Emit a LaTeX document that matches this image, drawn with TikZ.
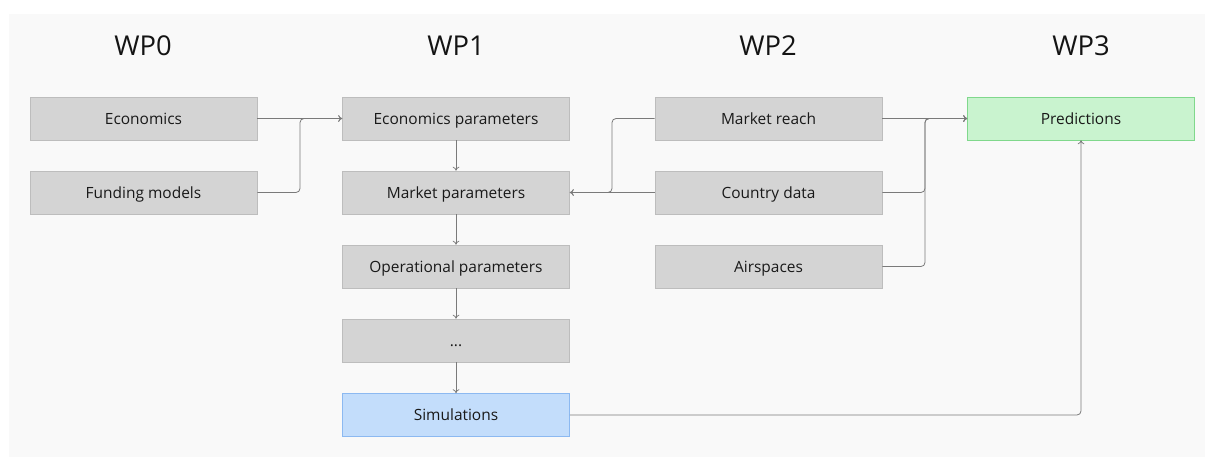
\documentclass[tikz,border=0pt]{standalone}
\usepackage{fontspec}
\setmainfont{Open Sans}
\usetikzlibrary{arrows.meta}
\definecolor{bg}{HTML}{F9F9F9}
\definecolor{boxfill}{HTML}{D4D4D4}
\definecolor{boxline}{HTML}{BDBDBD}
\definecolor{greenfill}{HTML}{C9F3CF}
\definecolor{greenline}{HTML}{80D88C}
\definecolor{bluefill}{HTML}{C3DDFB}
\definecolor{blueline}{HTML}{8CB9F1}
\definecolor{wire}{HTML}{7A7A7A}
\tikzset{
  wp/.style={draw=boxline,fill=boxfill,minimum width=170.25pt,minimum height=32.25pt,inner sep=0pt,
    text height=8.3pt,text depth=0pt,font=\fontsize{11.6}{13}\selectfont,text=black!90},
  pred/.style={wp,draw=greenline,fill=greenfill},
  sim/.style={wp,draw=blueline,fill=bluefill},
  head/.style={font=\fontsize{20.5}{24}\selectfont,text=black!92},
  link/.style={draw=wire,line width=0.6pt,-{To[length=3pt,width=5pt]},rounded corners=3pt},
}
\begin{document}
\begin{tikzpicture}[x=0.75pt,y=-0.75pt]
\useasboundingbox (0,0) rectangle (1205,457);
\fill[bg] (9,14) rectangle (1205,457);
% headers
\node[head] (h0) at (143,46) {WP0};
\node[head] (h1) at (456,46) {WP1};
\node[head] (h2) at (768,46) {WP2};
\node[head] (h3) at (1081,46) {WP3};
% WP0
\node[wp] (econ) at (143.5,118.5) {Economics};
\node[wp] (fund) at (143.5,192.5) {Funding models};
% WP1
\node[wp] (econpar) at (456,118.5) {Economics parameters};
\node[wp] (mktpar) at (456,192.5) {Market parameters};
\node[wp] (oppar) at (456,266.5) {Operational parameters};
\node[wp] (dots) at (456,340.5) {...};
\node[sim] (simu) at (456,415) {Simulations};
% WP2
\node[wp] (reach) at (768.5,118.5) {Market reach};
\node[wp] (country) at (768.5,192.5) {Country data};
\node[wp] (air) at (768.5,266.5) {Airspaces};
% WP3
\node[pred] (predict) at (1081,118.5) {Predictions};
% connectors
\draw[link] (econ) -- (econpar);
\draw[link] (fund.east) -| (300,150) |- (econpar.west);
\draw[link] (econpar) -- (mktpar);
\draw[link] (mktpar) -- (oppar);
\draw[link] (oppar) -- (dots);
\draw[link] (dots) -- (simu);
\draw[link] (reach.west) -| (612,150) |- (mktpar.east);
\draw[link] (country) -- (mktpar);
\draw[link] (reach) -- (predict);
\draw[link] (country.east) -| (925,150) |- (predict.west);
\draw[link] (air.east) -| (925,150) |- (predict.west);
\draw[link] (simu.east) -| (predict.south);
\end{tikzpicture}
\end{document}
